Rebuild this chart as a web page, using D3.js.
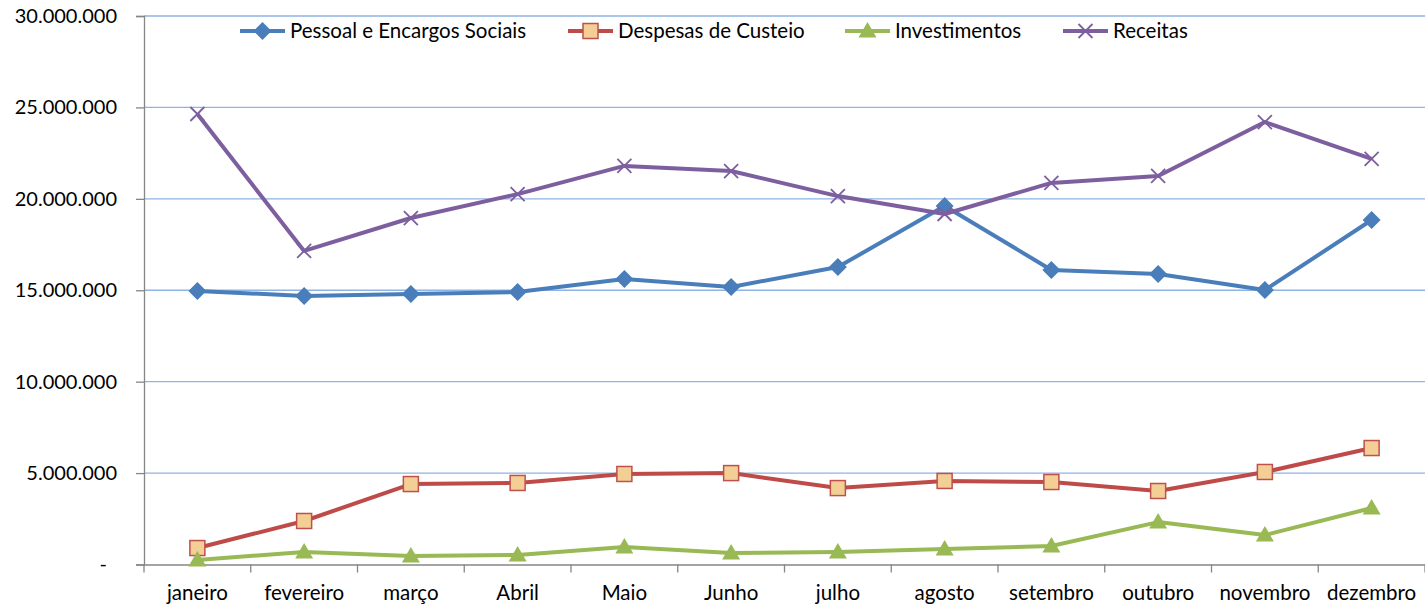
<!DOCTYPE html>
<html><head><meta charset="utf-8">
<script src="https://cdn.jsdelivr.net/npm/d3@7"></script>
<style>body{margin:0;background:#fff}svg{display:block}text{font-family:Lato,"Open Sans",sans-serif;fill:#000}</style>
</head><body><svg id="c" width="1425" height="608"></svg>
<script>
const categories = ["janeiro","fevereiro","março","Abril","Maio","Junho","julho","agosto","setembro","outubro","novembro","dezembro"];
const pessoal = [14960000,14690000,14790000,14900000,15620000,15180000,16270000,19610000,16110000,15890000,15010000,18840000];
const despesas = [900000,2380000,4400000,4460000,4950000,5000000,4180000,4570000,4510000,4020000,5060000,6370000];
const investimentos = [250000,680000,460000,520000,960000,630000,680000,850000,1010000,2320000,1610000,3090000];
const receitas = [24640000,17150000,18950000,20260000,21800000,21520000,20150000,19170000,20870000,21250000,24200000,22180000];
const yTicks = [0,5000000,10000000,15000000,20000000,25000000,30000000];
const seriesNames = ["Pessoal e Encargos Sociais","Despesas de Custeio","Investimentos","Receitas"];

(function(){
const svg = d3.select("#c");
const pl = 144, pr = 1425, pt = 16, pb = 564.5;
const x = d3.scaleBand().domain(categories).range([pl, pl + 106.75*12]);
const y = d3.scaleLinear().domain([0,30000000]).range([pb, pt]);
const fmt = v => v === 0 ? "-" : d3.format(",")(v).replace(/,/g,".");

svg.append("g").selectAll("line").data(yTicks.filter(d=>d>0)).join("line")
  .attr("x1", pl).attr("x2", pr).attr("y1", d=>y(d)).attr("y2", d=>y(d))
  .attr("stroke","#8EB4E3").attr("stroke-width",1.3);

const ya = svg.append("g").attr("transform",`translate(${pl},0)`)
  .call(d3.axisLeft(y).tickValues(yTicks).tickFormat(fmt).tickSize(8).tickPadding(19));
ya.select(".domain").attr("stroke","#868686").attr("stroke-width",1.3);
ya.selectAll(".tick line").attr("stroke","#868686").attr("stroke-width",1.3);
ya.selectAll("text").style("font-size","20px").attr("fill","#000");
ya.selectAll(".tick").filter(d=>d===0).select("text").attr("dx","-10");

const xa = svg.append("g").attr("transform",`translate(0,${pb})`)
  .call(d3.axisBottom(x).tickSize(0).tickPadding(21));
xa.select(".domain").attr("stroke","#868686").attr("stroke-width",1.3);
xa.selectAll("text").style("font-size","20.5px").attr("fill","#000");
svg.append("g").selectAll("line").data(d3.range(13)).join("line")
  .attr("x1", i=>pl+i*x.step()).attr("x2", i=>pl+i*x.step())
  .attr("y1", pb).attr("y2", pb+8).attr("stroke","#868686").attr("stroke-width",1.3);

const cx = c => x(c) + x.bandwidth()/2;
const line = d3.line().x((d,i)=>cx(categories[i])).y(d=>y(d));

const colors = ["#4A7EBB","#BE4B48","#98B954","#7D5FA0"];
const data = [pessoal, despesas, investimentos, receitas];

function marker(g, k, px, py) {
  if (k===0) {
    g.append("path").attr("d",`M${px},${py-9}L${px+9},${py}L${px},${py+9}L${px-9},${py}Z`).attr("fill",colors[0]);
  } else if (k===1) {
    g.append("rect").attr("x",px-7.5).attr("y",py-7.5).attr("width",15).attr("height",15)
      .attr("fill","#F3CF95").attr("stroke","#C0504D").attr("stroke-width",1.5);
  } else if (k===2) {
    g.append("path").attr("d",`M${px},${py-9}L${px+9},${py+6.5}L${px-9},${py+6.5}Z`).attr("fill",colors[2]);
  } else {
    g.append("path").attr("d",`M${px-7},${py-7}L${px+7},${py+7}M${px+7},${py-7}L${px-7},${py+7}`)
      .attr("stroke",colors[3]).attr("stroke-width",1.8);
  }
}

data.forEach((vals,k)=>{
  const g = svg.append("g");
  g.append("path").datum(vals).attr("d",line).attr("fill","none")
    .attr("stroke",colors[k]).attr("stroke-width",4).attr("stroke-linejoin","round");
  vals.forEach((v,i)=>marker(g,k,cx(categories[i]),y(v)));
});

const legX = [240, 568, 845, 1063];
const ly = 31;
seriesNames.forEach((n,k)=>{
  const g = svg.append("g");
  g.append("line").attr("x1",legX[k]).attr("x2",legX[k]+45).attr("y1",ly).attr("y2",ly)
    .attr("stroke",colors[k]).attr("stroke-width",4);
  marker(g,k,legX[k]+22.5,ly);
  g.append("text").attr("x",legX[k]+50).attr("y",ly).attr("dy","0.35em").style("font-size","20.5px").text(n);
});
})();
</script></body></html>
